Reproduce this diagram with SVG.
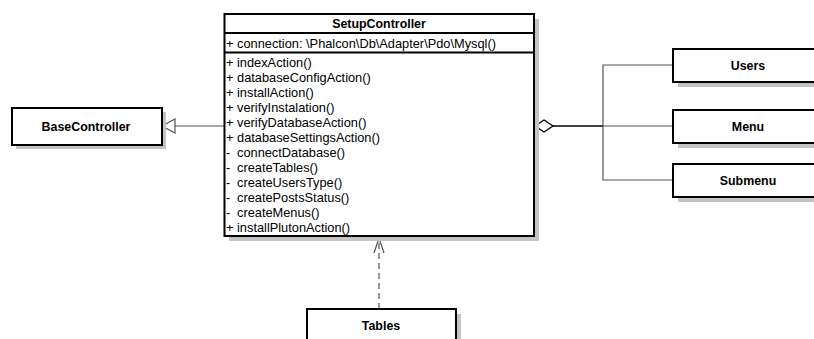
<svg xmlns="http://www.w3.org/2000/svg" width="814" height="339" viewBox="0 0 814 339">
  <style>
    .shadow { fill: #c4c4c4; }
    .box { fill: #ffffff; stroke: #000000; stroke-width: 2; }
    .sep { stroke: #000000; stroke-width: 2; }
    .name { font-family: "Liberation Sans", Arial, sans-serif; font-size: 12.4px; font-weight: bold; fill: #000; text-anchor: middle; }
    .member { font-family: "Liberation Sans", Arial, sans-serif; font-size: 12.8px; fill: #000; }
    .link { fill: none; stroke: #555555; stroke-width: 1.2; }
    .strong { fill: none; stroke: #000000; stroke-width: 1.5; }
  </style>
  <rect width="814" height="339" fill="#ffffff"/>

  <g id="connectors">
    <!-- generalization to BaseController -->
    <line class="link" x1="175" y1="126" x2="224" y2="126"/>
    <polygon points="162,126 175,119 175,133" fill="#ffffff" stroke="#555555" stroke-width="1.2"/>
    <!-- aggregation to Users / Menu / Submenu -->
    <line class="strong" x1="553" y1="126" x2="603" y2="126"/>
    <line class="link" x1="603" y1="126" x2="673" y2="126"/>
    <polyline class="link" points="673,65 603,65 603,180 673,180"/>
    <polygon points="535,126 544,120 553,126 544,132" fill="#ffffff" stroke="#000000" stroke-width="1.3"/>
    <!-- dependency from Tables -->
    <line class="link" x1="379" y1="309" x2="379" y2="239" stroke-dasharray="6,4"/>
    <polyline class="link" points="374,253 379,238 384,253"/>
  </g>

  <g id="SetupController">
    <rect class="shadow" x="229" y="19" width="310" height="222"/>
    <rect class="box" x="224.5" y="14" width="309.5" height="222"/>
    <line class="sep" x1="224.5" y1="33" x2="534" y2="33"/>
    <line class="sep" x1="224.5" y1="52.5" x2="534" y2="52.5"/>
    <text class="name" x="379" y="28">SetupController</text>
    <text class="member" x="226" y="48">+ connection: \Phalcon\Db\Adapter\Pdo\Mysql()</text>
    <text class="member" x="226" y="66.5">+ indexAction()</text>
    <text class="member" x="226" y="81.5">+ databaseConfigAction()</text>
    <text class="member" x="226" y="96.5">+ installAction()</text>
    <text class="member" x="226" y="111.5">+ verifyInstalation()</text>
    <text class="member" x="226" y="126.5">+ verifyDatabaseAction()</text>
    <text class="member" x="226" y="141.5">+ databaseSettingsAction()</text>
    <text class="member" x="226" y="156.5">-<tspan x="237">connectDatabase()</tspan></text>
    <text class="member" x="226" y="171.5">-<tspan x="237">createTables()</tspan></text>
    <text class="member" x="226" y="186.5">-<tspan x="237">createUsersType()</tspan></text>
    <text class="member" x="226" y="201.5">-<tspan x="237">createPostsStatus()</tspan></text>
    <text class="member" x="226" y="216.5">-<tspan x="237">createMenus()</tspan></text>
    <text class="member" x="226" y="231.5">+ installPlutonAction()</text>
  </g>

  <g id="BaseController">
    <rect class="shadow" x="16" y="112" width="150" height="37"/>
    <rect class="box" x="12" y="108" width="150" height="37"/>
    <text class="name" x="86" y="131">BaseController</text>
  </g>

  <g id="Users">
    <rect class="shadow" x="678" y="54" width="150" height="33"/>
    <rect class="box" x="673" y="49" width="150" height="33"/>
    <text class="name" x="748" y="70">Users</text>
  </g>

  <g id="Menu">
    <rect class="shadow" x="678" y="115" width="150" height="33"/>
    <rect class="box" x="673" y="110" width="150" height="33"/>
    <text class="name" x="748" y="131">Menu</text>
  </g>

  <g id="Submenu">
    <rect class="shadow" x="678" y="169" width="150" height="33"/>
    <rect class="box" x="673" y="164" width="150" height="33"/>
    <text class="name" x="748" y="185">Submenu</text>
  </g>

  <g id="Tables">
    <rect class="shadow" x="312" y="314" width="149" height="40"/>
    <rect class="box" x="307" y="309" width="149" height="40"/>
    <text class="name" x="381" y="330">Tables</text>
  </g>
</svg>
